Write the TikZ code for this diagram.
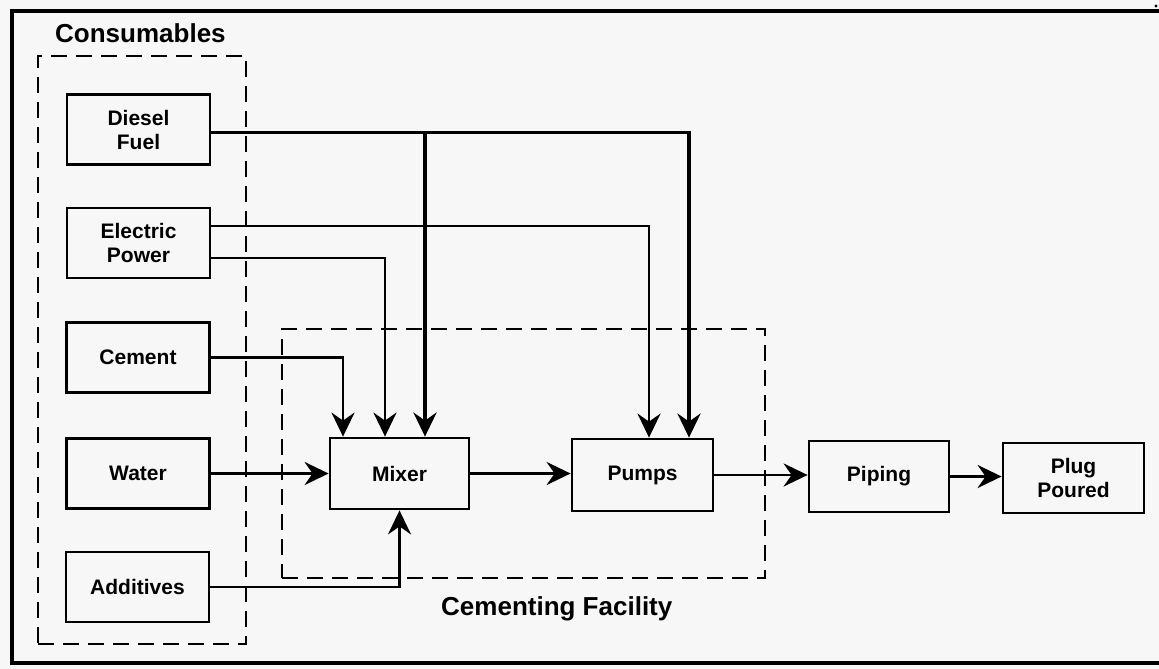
\documentclass[tikz,border=0pt]{standalone}
\usepackage{fontspec}
\setmainfont{Liberation Sans}
\usetikzlibrary{arrows.meta}
\definecolor{paper}{HTML}{F7F7F7}
\begin{document}
\begin{tikzpicture}[x=1pt,y=-1pt,
 box/.style={draw, line width=2.8pt, minimum width=143pt, minimum height=70pt, align=center,
   font=\fontsize{21}{24}\selectfont\bfseries, inner sep=0pt},
 conn/.style={line width=2.7pt, -{Stealth[length=24pt,width=23pt,inset=8pt]}},
 fuelconn/.style={conn, line width=3.8pt},
 dashbox/.style={draw, line width=2.9pt, dash pattern=on 16pt off 9pt, inner sep=0pt},
 lbl/.style={font=\fontsize{26}{30}\selectfont\bfseries, anchor=base west, inner sep=0pt},
 frameline/.style={line width=3.2pt}]
\useasboundingbox (0,0) rectangle (1159,669);
\fill[paper] (0,0) rectangle (1159,669);
% outer frame (right side runs off the page)
\draw[frameline] (1170,11) -- (12,11) -- (12,663) -- (1170,663);
\fill (1156,6) circle (1.6pt);

% containers
\node[dashbox, minimum width=208pt, minimum height=588pt] (cons) at (142,350) {};
\node[dashbox, minimum width=483pt, minimum height=249pt] (cem) at (523.5,453.5) {};
\node[lbl] (consl) at (55,43) {Consumables};
\node[lbl] (ceml) at (441,615) {Cementing Facility};

% boxes
\node[box] (diesel)    at (138.5,129.5) {Diesel\\Fuel};
\node[box] (electric)  at (138.5,243)   {Electric\\Power};
\node[box] (cement)    at (138,357.5)   {Cement};
\node[box] (water)     at (138,473.5)   {Water};
\node[box] (additives) at (137.5,587)   {Additives};
\node[box, minimum width=139pt, minimum height=71pt] (mixer) at (399.5,473.5) {Mixer};
\node[box, minimum width=141pt, minimum height=72pt] (pumps) at (642.5,475) {Pumps};
\node[box, minimum width=140pt, minimum height=71pt] (piping) at (879,476.5) {Piping};
\node[box, minimum width=141pt, minimum height=70pt] (plug) at (1073.5,478) {Plug\\Poured};

% connectors
\draw[fuelconn] ([yshift=-3pt]diesel.east) -| ([xshift=46.5pt]pumps.north);
\draw[fuelconn] ([yshift=-3pt]diesel.east) -| ([xshift=25.5pt]mixer.north);
\draw[conn] ([yshift=17pt]electric.east) -| ([xshift=6.5pt]pumps.north);
\draw[conn] ([yshift=-15pt]electric.east) -| ([xshift=-14.5pt]mixer.north);
\draw[conn] (cement.east) -| ([xshift=-56.5pt]mixer.north);
\draw[conn] (water.east) -- (mixer.west);
\draw[conn] (additives.east) -| (mixer.south);
\draw[conn] (mixer.east) -- (mixer.east -| pumps.west);
\draw[conn] (pumps.east) -- (pumps.east -| piping.west);
\draw[conn] (piping.east) -- (piping.east -| plug.west);
\end{tikzpicture}
\end{document}
